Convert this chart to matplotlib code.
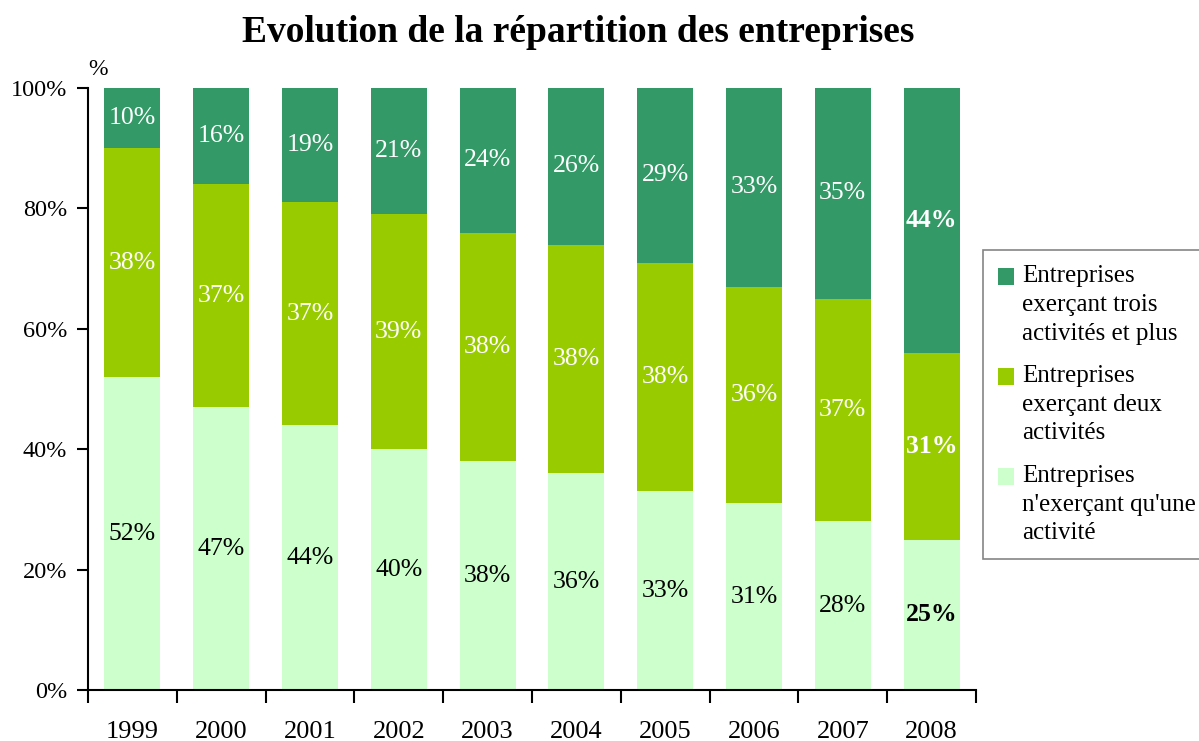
import matplotlib.pyplot as plt
import numpy as np
from matplotlib.legend_handler import HandlerPatch
from matplotlib.patches import Rectangle
from matplotlib.ticker import FixedLocator, PercentFormatter

annees = ["1999", "2000", "2001", "2002", "2003", "2004", "2005", "2006", "2007", "2008"]
une_activite = [52, 47, 44, 40, 38, 36, 33, 31, 28, 25]
deux_activites = [38, 37, 37, 39, 38, 38, 38, 36, 37, 31]
trois_et_plus = [10, 16, 19, 21, 24, 26, 29, 33, 35, 44]

noms = [
    "Entreprises\nn'exerçant qu'une\nactivité",
    "Entreprises\nexerçant deux\nactivités",
    "Entreprises\nexerçant trois\nactivités et plus",
]
couleurs = ["#CCFFCC", "#99CC00", "#339966"]
couleurs_texte = ["black", "white", "white"]

plt.rcParams["font.family"] = ["Liberation Serif", "DejaVu Serif"]

fig = plt.figure(figsize=(11.99, 7.41), dpi=100)
ax = fig.add_axes([0.0734, 0.0688, 0.7406, 0.8124])

x = np.arange(len(annees))
bas = np.zeros(len(annees))
barres = []
for serie, nom, coul, ctxt in zip(
    [une_activite, deux_activites, trois_et_plus], noms, couleurs, couleurs_texte
):
    valeurs = np.array(serie, dtype=float)
    b = ax.bar(x, valeurs, 0.63, bottom=bas, color=coul, label=nom)
    barres.append(b)
    for i, v in enumerate(valeurs):
        gras = annees[i] == "2008"
        ax.text(
            x[i], bas[i] + v / 2, f"{int(v)}%",
            ha="center", va="center", fontsize=18.5, color=ctxt,
            fontweight="bold" if gras else "normal",
        )
    bas += valeurs

ax.set_xlim(-0.5, len(annees) - 0.5)
ax.set_ylim(0, 100)
ax.yaxis.set_major_locator(FixedLocator([0, 20, 40, 60, 80, 100]))
ax.yaxis.set_major_formatter(PercentFormatter(decimals=0))
ax.set_xticks(x)
ax.set_xticklabels(annees)
ax.set_xticks(np.arange(-0.5, len(annees)), minor=True)
ax.tick_params(axis="x", which="major", length=0, pad=22, labelsize=19)
ax.tick_params(axis="x", which="minor", length=9, width=1.5, direction="out")
ax.tick_params(axis="y", length=8, width=1.5, direction="out", pad=7, labelsize=17.5)

for cote in ["top", "right"]:
    ax.spines[cote].set_visible(False)
for cote in ["left", "bottom"]:
    ax.spines[cote].set_linewidth(1.5)

ax.text(0.011, 1.03, "%", transform=ax.transAxes, fontsize=17, ha="center", va="center")

fig.suptitle("Evolution de la répartition des entreprises", fontsize=27,
             fontweight="bold", x=0.482, y=0.98)


def carre_haut(legend, orig_handle, xdescent, ydescent, width, height, fontsize):
    # carré aligné sur la première ligne du libellé
    return Rectangle((-xdescent, -ydescent + 20.2), width, height)


leg = ax.legend(
    [barres[2].patches[0], barres[1].patches[0], barres[0].patches[0]],
    [noms[2], noms[1], noms[0]],
    loc="upper left", bbox_to_anchor=(0.82, 0.662), bbox_transform=fig.transFigure,
    fontsize=18, frameon=True, fancybox=False, edgecolor="#666666",
    handlelength=0.64, handleheight=0.64, handletextpad=0.31, labelspacing=0.82,
    borderpad=0.6, borderaxespad=0,
    handler_map={Rectangle: HandlerPatch(patch_func=carre_haut)},
)
for t in leg.get_texts():
    t.set_linespacing(1.39)
leg.get_frame().set_linewidth(1.2)

fig.savefig("out.png", dpi=100)
